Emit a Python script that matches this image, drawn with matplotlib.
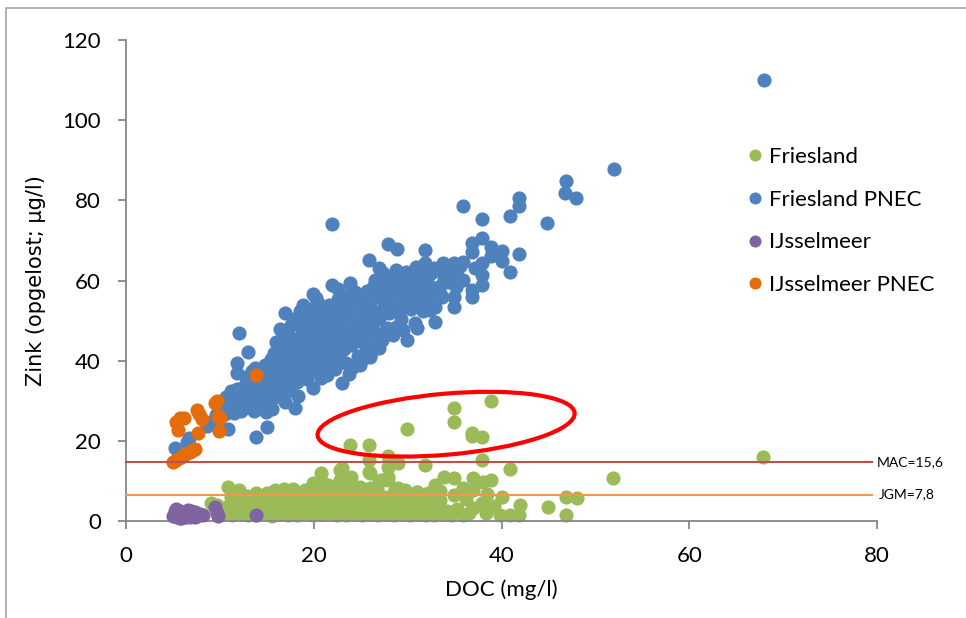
import matplotlib
matplotlib.use("Agg")
import matplotlib.pyplot as plt
from matplotlib.patches import Ellipse, Rectangle
import matplotlib.transforms as mtransforms

# ---------------- data (DOC mg/l, Zn µg/l) ----------------
friesland = [
    # bottom band row 1
    (10.5,1.7),(11.3,1.4),(12.2,2.0),(13.0,1.6),(13.9,1.5),(14.8,1.9),(15.6,1.3),(16.5,1.8),(17.3,1.6),(18.2,1.4),
    (19.1,2.1),(19.9,1.5),(20.8,1.7),(21.6,1.9),(22.5,1.4),(23.4,1.6),(24.2,2.0),(25.1,1.5),(25.9,1.8),(26.8,1.4),
    (27.7,1.7),(28.5,1.6),(29.4,1.9),(30.2,1.5),(31.1,1.8),(32.0,1.4),(32.8,1.6),(33.7,1.9),(34.6,1.5),
    # row 2
    (10.9,3.8),(11.8,3.3),(12.6,4.1),(13.5,3.6),(14.4,3.9),(15.2,3.4),(16.1,4.2),(16.9,3.7),(17.8,3.5),(18.6,4.0),
    (19.5,3.6),(20.4,3.3),(21.2,4.3),(22.1,3.8),(22.9,3.5),(23.8,4.1),(24.6,3.6),(25.5,3.9),(26.4,3.4),(27.2,4.2),
    (28.1,3.7),(28.9,3.5),(29.8,4.0),(30.7,3.6),(31.5,3.9),(32.4,3.4),(33.2,4.1),
    # row 3
    (11.2,5.9),(12.0,5.5),(12.9,6.2),(13.7,5.7),(14.6,6.0),(15.5,5.4),(16.3,6.3),(17.2,5.8),(18.0,5.6),(18.9,6.1),
    (19.8,5.5),(20.6,6.0),(21.5,5.8),(22.3,6.4),(23.2,5.6),(24.0,6.1),(24.9,5.7),(25.8,6.3),(26.6,5.5),(27.5,5.9),
    (28.3,6.2),(29.2,5.6),(30.0,6.0),(30.9,5.7),(31.8,6.2),(32.6,5.8),
    # top of band
    (10.9,8.6),(12.0,7.7),(13.9,6.9),(15.0,6.9),(15.9,7.7),(16.8,8.1),(17.8,8.1),(19.1,7.7),(20.3,7.9),(21.6,7.4),
    (22.4,7.2),(23.7,8.3),(24.8,7.0),(25.6,7.6),(26.7,8.0),(28.6,7.3),(29.7,7.8),(31.0,7.3),(32.2,7.0),(33.4,7.5),
    (24.9,8.6),(26.0,8.2),(27.0,9.8),(27.9,10.2),(29.0,8.2),
    # scattered higher / right
    (19.9,9.4),(20.8,11.9),(22.8,12.7),(22.8,10.2),(21.5,8.9),(23.0,13.1),(24.0,11.1),(23.0,10.2),(20.9,9.8),
    (25.9,15.2),(25.9,12.3),(26.0,11.9),(27.9,13.4),(27.9,11.1),(29.0,14.5),(27.2,10.2),(27.9,16.2),(31.8,14.0),
    (33.9,11.1),(34.9,10.7),(32.9,9.0),(37.0,10.8),(38.0,9.8),(38.9,10.2),(35.9,8.2),(37.0,7.7),(40.0,6.1),
    (42.0,4.0),(45.0,3.6),(46.9,6.1),(48.0,5.7),(46.9,1.5),(39.8,1.5),(40.9,1.5),(41.9,1.5),(35.9,1.5),(37.0,3.2),
    (37.9,4.4),(37.9,15.2),(40.9,12.9),(31.0,7.3),(51.9,10.8),(67.9,15.9),
    (33.5,5.2),(34.9,6.5),(35.3,3.0),(36.2,5.4),(36.5,2.0),(38.5,6.8),(39.2,3.8),(38.4,2.1),(34.2,2.6),
    (9.1,4.4),(9.7,4.0),(9.7,3.0),
    # circled points
    (38.9,29.9),(34.9,28.1),(34.9,24.8),(29.9,22.9),(36.9,22.0),(37.9,20.9),(36.9,21.3),(23.9,19.0),(25.9,19.0),
]

friesland_pnec = [
    (5.2,18.1),(6.7,20.6),(6.5,19.6),(8.6,23.8),(9.1,24.8),(9.6,26.5),(9.8,27.2),(10.1,28.0),(10.9,22.9),
    (10.4,29.5),(10.6,31.0),(11.0,27.8),(10.8,30.2),(11.2,32.5),(10.5,26.8),
    (11.4,28.5),(11.6,30.8),(11.8,33.0),(11.5,26.9),(11.9,29.4),(12.0,31.6),(11.8,36.9),(11.8,39.3),(12.0,46.8),
    (12.2,27.5),(12.4,29.9),(12.5,32.2),(12.7,34.0),(12.9,30.7),(12.6,28.3),(13.0,42.2),(12.8,36.0),(12.3,31.0),
    (13.2,29.0),(13.3,31.9),(13.5,33.8),(13.6,27.4),(13.8,35.6),(13.9,30.4),(13.9,21.0),(13.4,37.5),(13.7,38.2),
    (14.1,32.8),(14.2,28.6),(14.4,34.9),(14.5,30.6),(14.6,36.8),(14.8,39.0),(14.9,27.2),(15.0,23.5),(14.3,31.9),
    (14.7,33.3),(15.0,37.3),
    (15.2,29.8),(15.3,35.2),(15.4,40.4),(15.5,32.1),(15.6,37.9),(15.8,42.0),(15.9,30.9),(15.7,34.6),(15.1,38.6),
    (16.0,44.6),(15.6,27.9),
    (16.1,33.2),(16.2,36.4),(16.3,39.8),(16.4,31.5),(16.5,42.7),(16.6,35.0),(16.7,46.5),(16.8,38.1),(16.9,51.8),
    (16.9,29.6),(16.4,47.8),(16.2,44.1),
    (17.0,34.3),(17.1,41.2),(17.2,37.7),(17.3,44.4),(17.5,32.6),(17.6,48.9),(17.7,39.5),(17.8,43.0),(17.9,36.1),
    (18.0,28.1),(17.4,46.2),(17.9,50.5),
    (18.1,40.8),(18.2,34.8),(18.3,45.6),(18.4,38.3),(18.5,52.4),(18.6,42.9),(18.7,48.0),(18.8,36.7),(18.9,53.9),
    (18.9,44.5),(18.3,31.2),(18.6,50.0),
    (19.0,39.6),(19.1,46.9),(19.2,42.3),(19.3,35.4),(19.4,50.8),(19.5,44.8),(19.6,38.2),(19.7,48.4),(19.8,41.1),
    (19.9,56.7),(19.9,33.1),(19.5,52.9),
    (20.0,45.3),(20.1,50.1),(20.2,37.5),(20.3,42.7),(20.4,54.4),(20.5,47.8),(20.6,40.4),(20.7,52.2),(20.8,35.6),
    (20.9,44.0),(20.2,55.7),(20.6,49.0),
    (21.0,38.9),(21.1,46.4),(21.2,51.7),(21.3,42.2),(21.4,36.3),(21.5,48.6),(21.6,54.0),(21.7,44.8),(21.8,39.8),
    (21.9,58.9),(21.9,74.1),(21.5,50.3),
    (22.0,47.1),(22.1,41.6),(22.2,53.2),(22.3,37.8),(22.4,49.6),(22.5,44.3),(22.6,55.4),(22.7,40.9),(22.8,51.0),
    (22.9,46.0),(23.0,34.4),(22.6,58.0),
    (23.1,48.3),(23.2,42.8),(23.3,53.9),(23.4,39.5),(23.5,50.7),(23.6,45.5),(23.7,56.4),(23.8,36.6),(23.9,59.5),
    (23.9,47.2),(23.4,52.3),
    (24.0,43.9),(24.1,51.4),(24.2,38.4),(24.3,55.2),(24.5,46.6),(24.6,49.0),(24.7,41.1),(24.8,53.6),(24.9,38.9),
    (24.4,57.1),
    (25.0,50.2),(25.1,44.7),(25.2,54.8),(25.4,47.9),(25.5,42.0),(25.6,52.5),(25.7,57.3),(25.8,45.8),(25.9,65.0),
    (25.9,49.9),(25.3,40.6),(26.0,41.0),
    (26.0,54.1),(26.2,48.6),(26.3,58.4),(26.4,43.5),(26.6,51.8),(26.8,55.9),(26.9,63.0),(26.9,46.7),(26.5,60.1),
    (26.1,41.9),(26.9,43.1),
    (27.0,50.4),(27.2,57.0),(27.3,45.1),(27.5,53.3),(27.6,59.6),(27.8,48.2),(27.9,69.0),(27.9,55.0),(27.4,61.8),
    (28.0,52.0),(28.2,58.7),(28.4,46.4),(28.5,61.2),(28.7,54.5),(28.8,62.6),(28.9,67.8),(28.8,48.5),(28.3,56.6),
    (29.0,57.8),(29.2,52.9),(29.4,60.4),(29.5,47.6),(29.7,55.3),(29.8,62.1),(29.9,45.2),(29.9,58.9),(29.3,50.5),
    (30.1,56.1),(30.3,61.0),(30.4,53.0),(30.6,59.2),(30.8,49.5),(31.0,48.1),(30.9,63.4),(30.5,57.5),
    (31.2,55.0),(31.4,60.7),(31.6,52.3),(31.8,58.1),(31.9,67.6),(31.9,64.3),(31.5,62.5),(31.7,56.4),
    (32.1,59.9),(32.3,54.7),(32.5,61.8),(32.7,57.2),(32.9,49.7),(32.9,53.3),(32.8,63.0),(32.4,52.6),
    (33.2,58.5),(33.5,62.6),(33.7,55.8),(33.8,64.3),(33.9,60.3),(34.0,61.4),(33.4,57.0),
    (34.3,59.7),(34.6,62.9),(34.9,64.3),(34.9,56.0),(34.9,53.5),(35.3,61.0),(35.6,63.5),(35.9,64.7),(35.9,60.1),
    (35.9,78.6),(35.2,58.3),
    (36.9,69.3),(36.9,67.2),(36.9,57.6),(36.9,56.0),(37.9,70.5),(37.9,64.3),(37.9,61.4),(37.9,58.9),(37.9,75.3),
    (37.2,63.0),
    (38.9,68.4),(40.0,67.4),(38.9,66.1),(40.0,64.9),(40.9,62.0),(40.9,76.1),(41.9,80.7),(41.9,78.7),(41.9,66.5),
    (44.9,74.4),(46.9,84.7),(46.8,81.9),(47.9,80.5),(52.0,87.8),(68.0,110.0),
]

ijsselmeer = [
    (5.0,1.2),(5.2,2.4),(5.4,1.0),(5.5,1.8),(5.7,0.8),(5.8,2.6),(6.0,1.5),(6.1,1.0),(6.3,2.2),(6.5,1.4),
    (6.6,2.8),(6.8,1.1),(7.0,2.0),(7.2,1.6),(7.4,2.3),(7.6,1.2),(7.9,1.8),(8.2,1.5),(5.3,3.0),(5.9,0.7),
    (6.4,0.9),(6.9,2.6),(7.3,1.0),(9.5,3.6),(9.7,2.0),(9.8,1.2),(13.9,1.5),
]

ijsselmeer_pnec = [
    (5.0,14.6),(5.3,15.1),(5.6,15.6),(5.9,16.0),(6.2,16.5),(6.5,16.9),(6.8,17.3),(7.1,17.7),(7.3,18.0),
    (5.3,24.8),(5.5,22.7),(5.7,25.6),(6.2,25.8),(7.6,27.6),(7.8,26.6),(8.1,25.5),(7.7,22.0),
    (9.5,29.5),(9.7,30.0),(9.8,26.2),(9.9,22.5),(10.0,25.8),(13.9,36.4),
]

mac_value, mac_label = 14.8, "MAC=15,6"
jgm_value, jgm_label = 6.6, "JGM=7,8"
x_ticks = [0, 20, 40, 60, 80]
y_ticks = [0, 20, 40, 60, 80, 100, 120]
series_labels = ["Friesland", "Friesland PNEC", "IJsselmeer", "IJsselmeer PNEC"]
x_label = "DOC (mg/l)"
y_label = "Zink (opgelost; µg/l)"

# ---------------- drawing ----------------
plt.rcParams['font.family'] = ['Lato', 'DejaVu Sans']
W, H = 966, 618
fig = plt.figure(figsize=(W / 100, H / 100), dpi=100)
fig.patch.set_facecolor('white')

# chart area border
fig.patches.append(Rectangle((6 / W, -0.05), 1.2, (H - 8) / H + 0.05, transform=fig.transFigure,
                             fill=False, ec='#a6a6a6', lw=1.2))

ax = fig.add_axes([126 / W, 1 - 521 / H, (877 - 126) / W, (521 - 40) / H])

colors = ['#9BBB59', '#4F81BD', '#8064A2', '#E46C0A']
series = [friesland, friesland_pnec, ijsselmeer, ijsselmeer_pnec]
handles = []
for data, col, lab, z in zip(series, colors, series_labels, [2, 3, 4, 5]):
    xs = [p[0] for p in data]
    ys = [p[1] for p in data]
    h, = ax.plot(xs, ys, 'o', ms=10.2, mfc=col, mec='none', label=lab, clip_on=False, zorder=z)
    handles.append(h)

ax.plot([0, 79.5], [mac_value, mac_value], color='#C0504D', lw=1.5, zorder=6, clip_on=False)
ax.plot([0, 79.5], [jgm_value, jgm_value], color='#F79646', lw=1.5, zorder=6, clip_on=False)
ax.text(80.0, mac_value, mac_label, ha='left', va='center', fontsize=10)
ax.text(80.2, jgm_value, jgm_label, ha='left', va='center', fontsize=10)

ax.set_xlim(0, 80)
ax.set_ylim(0, 120)
ax.set_xticks(x_ticks)
ax.set_yticks(y_ticks)
for s in ['top', 'right']:
    ax.spines[s].set_visible(False)
for s in ['left', 'bottom']:
    ax.spines[s].set_color('#868686')
    ax.spines[s].set_linewidth(1.3)
ax.tick_params(axis='both', direction='out', length=6, width=1.3, color='#868686',
               labelsize=16, pad=12)
ax.set_xlabel(x_label, fontsize=16, labelpad=10)
ax.set_ylabel(y_label, fontsize=15, family=['DejaVu Sans'], labelpad=12)

# red ellipse highlighting points (drawn in pixel units, centered at data point)
trans = fig.dpi_scale_trans + mtransforms.ScaledTranslation(34.1, 24.15, ax.transData)
ell = Ellipse((0, 0), width=2.58, height=0.61, angle=5, transform=trans,
              fill=False, ec='#FF0000', lw=3, zorder=7, clip_on=False)
ax.add_artist(ell)

leg = fig.legend(handles=handles, labels=series_labels, loc='upper left',
                 bbox_to_anchor=(748 / W, 1 - 147 / H), frameon=False, fontsize=16,
                 handlelength=0.6, handletextpad=0.35, labelspacing=1.02,
                 borderpad=0, borderaxespad=0, markerscale=0.85)

fig.savefig('out.png', dpi=100)
